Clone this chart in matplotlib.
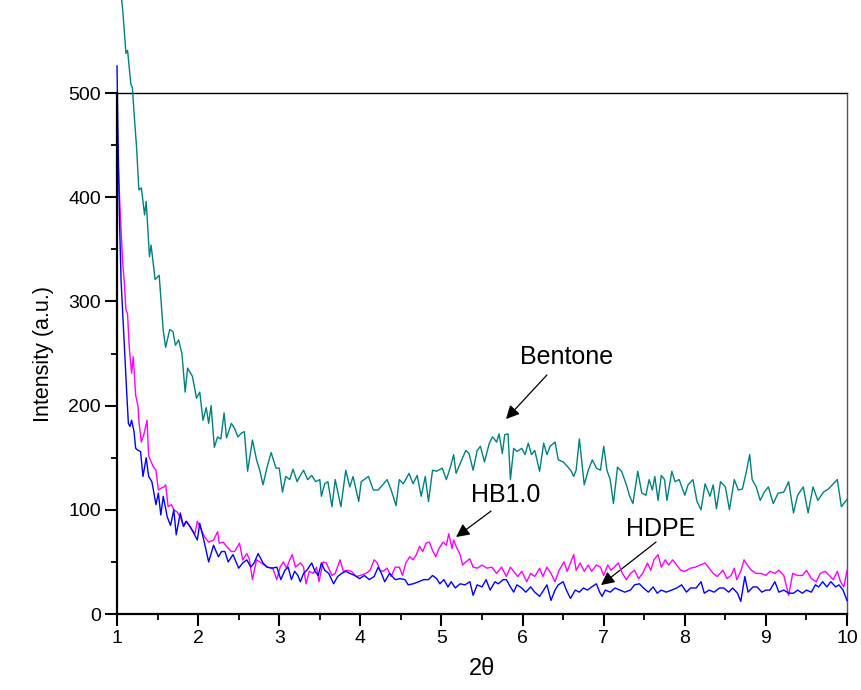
import numpy as np
import matplotlib
matplotlib.use("Agg")
import matplotlib.pyplot as plt
from matplotlib.ticker import MultipleLocator

plt.rcParams['font.family'] = ['Liberation Sans', 'DejaVu Sans']

# XRD patterns (2-theta in degrees, intensity in arbitrary units)
bentone_2theta = [
    1.00, 1.03, 1.07, 1.11, 1.13, 1.17, 1.19, 1.21, 1.24, 1.27, 1.30, 1.34, 1.36, 1.40, 1.42, 1.47,
    1.52, 1.57, 1.60, 1.65, 1.69, 1.72, 1.76, 1.80, 1.84, 1.87, 1.93, 1.98, 2.02, 2.06, 2.10, 2.13,
    2.16, 2.20, 2.24, 2.28, 2.32, 2.35, 2.41, 2.45, 2.49, 2.54, 2.57, 2.61, 2.67, 2.72, 2.76, 2.80,
    2.85, 2.90, 2.96, 3.00, 3.04, 3.08, 3.13, 3.17, 3.22, 3.26, 3.30, 3.35, 3.40, 3.45, 3.50, 3.52,
    3.56, 3.60, 3.65, 3.69, 3.76, 3.82, 3.87, 3.91, 3.98, 4.01, 4.10, 4.16, 4.22, 4.33, 4.38, 4.44,
    4.48, 4.53, 4.60, 4.65, 4.70, 4.75, 4.80, 4.84, 4.89, 4.94, 5.01, 5.06, 5.11, 5.15, 5.18, 5.25,
    5.30, 5.34, 5.39, 5.44, 5.48, 5.53, 5.59, 5.63, 5.68, 5.71, 5.75, 5.78, 5.82, 5.85, 5.89, 5.93,
    5.99, 6.03, 6.07, 6.11, 6.15, 6.21, 6.26, 6.30, 6.34, 6.40, 6.44, 6.50, 6.56, 6.60, 6.63, 6.66,
    6.70, 6.73, 6.76, 6.81, 6.86, 6.91, 6.96, 7.00, 7.04, 7.08, 7.12, 7.17, 7.22, 7.28, 7.32, 7.36,
    7.42, 7.47, 7.52, 7.56, 7.60, 7.63, 7.67, 7.71, 7.75, 7.78, 7.84, 7.88, 7.93, 8.00, 8.04, 8.10,
    8.15, 8.20, 8.25, 8.31, 8.35, 8.39, 8.44, 8.50, 8.55, 8.61, 8.66, 8.71, 8.76, 8.80, 8.83, 8.88,
    8.93, 8.98, 9.03, 9.09, 9.15, 9.22, 9.28, 9.34, 9.39, 9.46, 9.52, 9.58, 9.64, 9.71, 9.77, 9.83,
    9.88, 9.93, 10.00,
]
bentone_intensity = [
    640, 610, 580, 538, 541, 509, 505, 481, 449, 407, 409, 383, 396, 343, 354, 321,
    325, 272, 256, 273, 271, 258, 263, 250, 213, 236, 228, 207, 213, 186, 198, 183,
    200, 160, 170, 168, 193, 169, 183, 178, 170, 174, 175, 137, 167, 148, 138, 124,
    141, 155, 140, 140, 117, 132, 129, 139, 127, 133, 138, 129, 133, 127, 129, 113,
    125, 127, 103, 129, 103, 138, 122, 132, 108, 127, 132, 119, 119, 129, 119, 104,
    129, 125, 135, 125, 133, 113, 132, 108, 138, 137, 140, 129, 141, 153, 135, 148,
    157, 154, 138, 157, 161, 146, 164, 170, 165, 173, 154, 172, 173, 129, 159, 156,
    159, 153, 164, 153, 157, 137, 164, 153, 161, 165, 148, 146, 141, 137, 132, 138,
    168, 146, 124, 138, 148, 140, 138, 161, 138, 129, 106, 141, 137, 124, 113, 106,
    137, 116, 114, 129, 119, 132, 109, 133, 129, 109, 137, 127, 129, 114, 124, 129,
    108, 100, 125, 113, 124, 101, 127, 122, 100, 129, 119, 120, 137, 153, 129, 122,
    109, 117, 122, 106, 116, 117, 127, 97, 114, 122, 97, 122, 109, 117, 120, 125,
    129, 103, 110,
]

hb10_2theta = [
    1.00, 1.02, 1.04, 1.07, 1.09, 1.11, 1.13, 1.15, 1.18, 1.20, 1.23, 1.26, 1.27, 1.30, 1.33, 1.37,
    1.39, 1.42, 1.45, 1.48, 1.51, 1.55, 1.58, 1.60, 1.63, 1.67, 1.70, 1.74, 1.78, 1.82, 1.86, 1.90,
    1.96, 1.99, 2.02, 2.08, 2.13, 2.19, 2.24, 2.26, 2.31, 2.35, 2.41, 2.45, 2.51, 2.55, 2.60, 2.63,
    2.67, 2.72, 2.78, 2.85, 2.92, 2.97, 3.01, 3.05, 3.09, 3.13, 3.16, 3.20, 3.26, 3.30, 3.33, 3.37,
    3.42, 3.46, 3.49, 3.54, 3.58, 3.65, 3.69, 3.75, 3.79, 3.83, 3.89, 3.95, 4.00, 4.07, 4.12, 4.17,
    4.21, 4.24, 4.28, 4.33, 4.38, 4.43, 4.48, 4.52, 4.56, 4.61, 4.65, 4.69, 4.73, 4.77, 4.81, 4.85,
    4.89, 4.93, 4.97, 5.02, 5.06, 5.09, 5.13, 5.15, 5.18, 5.23, 5.26, 5.30, 5.35, 5.39, 5.44, 5.50,
    5.56, 5.62, 5.68, 5.74, 5.80, 5.85, 5.89, 5.94, 5.99, 6.05, 6.10, 6.15, 6.21, 6.25, 6.30, 6.35,
    6.40, 6.45, 6.51, 6.55, 6.59, 6.63, 6.66, 6.71, 6.76, 6.81, 6.85, 6.91, 6.96, 7.00, 7.05, 7.09,
    7.13, 7.18, 7.23, 7.28, 7.33, 7.38, 7.43, 7.48, 7.54, 7.58, 7.62, 7.67, 7.71, 7.76, 7.80, 7.85,
    7.90, 7.95, 8.00, 8.07, 8.13, 8.19, 8.25, 8.30, 8.35, 8.40, 8.47, 8.52, 8.57, 8.61, 8.64, 8.69,
    8.73, 8.77, 8.82, 8.88, 8.94, 9.00, 9.05, 9.11, 9.16, 9.22, 9.28, 9.33, 9.39, 9.45, 9.50, 9.56,
    9.62, 9.67, 9.73, 9.78, 9.83, 9.88, 9.92, 9.96, 10.00,
]
hb10_intensity = [
    458, 420, 385, 337, 318, 292, 288, 257, 231, 247, 210, 199, 185, 165, 172, 186,
    152, 146, 141, 138, 119, 121, 122, 124, 103, 105, 100, 98, 93, 84, 89, 84,
    77, 89, 84, 74, 69, 71, 79, 68, 69, 65, 60, 60, 68, 52, 58, 53,
    33, 52, 49, 45, 44, 33, 45, 50, 44, 52, 57, 45, 49, 45, 29, 41,
    39, 45, 31, 50, 49, 37, 39, 52, 41, 42, 41, 36, 37, 39, 42, 52,
    49, 42, 41, 44, 36, 45, 45, 37, 49, 55, 52, 57, 65, 60, 68, 69,
    61, 55, 63, 69, 66, 77, 63, 71, 65, 57, 47, 50, 53, 45, 44, 47,
    44, 45, 39, 45, 36, 45, 41, 36, 41, 31, 39, 36, 44, 36, 45, 39,
    31, 42, 50, 41, 49, 57, 42, 49, 41, 47, 41, 47, 45, 37, 47, 42,
    45, 49, 39, 33, 39, 42, 34, 39, 49, 42, 52, 57, 45, 52, 47, 52,
    47, 42, 41, 44, 45, 47, 49, 44, 39, 36, 42, 34, 37, 44, 33, 41,
    52, 47, 42, 39, 39, 37, 41, 39, 42, 37, 18, 39, 37, 37, 42, 34,
    31, 39, 41, 37, 33, 41, 31, 26, 42,
]

hdpe_2theta = [
    1.00, 1.01, 1.03, 1.05, 1.08, 1.10, 1.12, 1.14, 1.16, 1.18, 1.21, 1.23, 1.26, 1.29, 1.32, 1.36,
    1.39, 1.43, 1.48, 1.51, 1.54, 1.57, 1.62, 1.66, 1.70, 1.73, 1.78, 1.82, 1.85, 1.90, 1.95, 1.99,
    2.02, 2.07, 2.13, 2.19, 2.25, 2.29, 2.33, 2.37, 2.43, 2.50, 2.55, 2.60, 2.65, 2.69, 2.74, 2.80,
    2.85, 2.91, 2.97, 3.02, 3.07, 3.11, 3.15, 3.19, 3.23, 3.26, 3.30, 3.34, 3.40, 3.44, 3.48, 3.52,
    3.56, 3.61, 3.67, 3.72, 3.77, 3.82, 3.87, 3.93, 3.99, 4.05, 4.11, 4.17, 4.22, 4.26, 4.30, 4.36,
    4.43, 4.49, 4.55, 4.59, 4.65, 4.72, 4.78, 4.84, 4.89, 4.94, 4.98, 5.03, 5.08, 5.12, 5.17, 5.23,
    5.29, 5.35, 5.39, 5.44, 5.50, 5.55, 5.60, 5.66, 5.70, 5.76, 5.80, 5.85, 5.89, 5.93, 5.99, 6.04,
    6.10, 6.15, 6.21, 6.26, 6.30, 6.35, 6.40, 6.44, 6.50, 6.54, 6.59, 6.65, 6.70, 6.75, 6.80, 6.85,
    6.91, 6.95, 6.98, 7.02, 7.08, 7.14, 7.20, 7.26, 7.33, 7.38, 7.44, 7.49, 7.55, 7.61, 7.66, 7.71,
    7.77, 7.84, 7.90, 7.96, 8.02, 8.07, 8.14, 8.20, 8.24, 8.30, 8.36, 8.43, 8.48, 8.54, 8.59, 8.65,
    8.69, 8.74, 8.78, 8.84, 8.89, 8.95, 9.00, 9.05, 9.11, 9.16, 9.22, 9.28, 9.34, 9.39, 9.45, 9.50,
    9.56, 9.61, 9.65, 9.70, 9.75, 9.80, 9.86, 9.90, 9.95, 10.00,
]
hdpe_intensity = [
    526, 470, 380, 320, 273, 240, 212, 183, 180, 186, 175, 159, 157, 156, 132, 150,
    132, 127, 105, 116, 95, 113, 93, 85, 100, 76, 97, 84, 89, 84, 77, 71,
    87, 71, 50, 66, 55, 60, 60, 50, 57, 44, 49, 52, 45, 49, 58, 49,
    45, 44, 45, 33, 42, 45, 33, 41, 37, 31, 39, 42, 49, 41, 37, 49,
    42, 39, 29, 36, 39, 41, 39, 37, 34, 37, 33, 36, 45, 39, 31, 39,
    33, 34, 33, 28, 29, 31, 33, 33, 37, 34, 29, 33, 26, 31, 25, 29,
    28, 31, 18, 28, 26, 33, 23, 31, 29, 33, 33, 26, 21, 28, 25, 21,
    26, 21, 17, 23, 28, 13, 23, 28, 31, 23, 15, 23, 21, 25, 23, 26,
    29, 21, 17, 23, 21, 25, 23, 21, 23, 28, 29, 25, 21, 26, 20, 23,
    21, 23, 25, 28, 21, 25, 25, 31, 20, 23, 21, 25, 25, 21, 25, 20,
    12, 36, 21, 26, 26, 21, 23, 23, 31, 21, 23, 20, 20, 23, 20, 23,
    21, 28, 26, 31, 26, 31, 26, 28, 23, 13,
]

x_ticks = [1, 2, 3, 4, 5, 6, 7, 8, 9, 10]
y_ticks = [0, 100, 200, 300, 400, 500]

fig = plt.figure(figsize=(8.61, 6.90), dpi=100)
ax = fig.add_axes([0.1359, 0.1101, 0.8479, 0.7551])

ax.plot(bentone_2theta, bentone_intensity, color='#008080', lw=1.0, clip_on=False, zorder=3)
ax.plot(hb10_2theta, hb10_intensity, color='#FF00FF', lw=1.0, clip_on=False, zorder=4)
ax.plot(hdpe_2theta, hdpe_intensity, color='#0000FF', lw=1.0, clip_on=False, zorder=5)

ax.set_xlim(1, 10)
ax.set_ylim(0, 500)
ax.set_xticks(x_ticks)
ax.set_yticks(y_ticks)
ax.xaxis.set_minor_locator(MultipleLocator(0.5))
ax.yaxis.set_minor_locator(MultipleLocator(50))

for side in ('left', 'bottom'):
    ax.spines[side].set_linewidth(1.6)
    ax.spines[side].set_color('black')
    ax.spines[side].set_zorder(6)
ax.spines['top'].set_linewidth(1.0)
ax.spines['top'].set_color('black')
ax.spines['right'].set_linewidth(1.0)
ax.spines['right'].set_color('#555555')

ax.tick_params(which='major', direction='out', length=8.5, width=1.5, labelsize=14,
               top=False, right=False, pad=3)
ax.tick_params(which='minor', direction='out', length=4.5, width=1.3, top=False, right=False)

ax.set_xlabel('2θ', fontsize=17, labelpad=8)
ax.set_ylabel('Intensity (a.u.)', fontsize=15.5, labelpad=10)

# Sample labels with arrows
ax.text(6.548, 246.6, 'Bentone', fontsize=18, ha='center', va='center')
ax.annotate('', xy=(5.796, 187.1), xytext=(6.30, 229.4),
            arrowprops=dict(arrowstyle='-|>', color='black', lw=0.9,
                            mutation_scale=20, shrinkA=0, shrinkB=0))
ax.text(5.796, 114.2, 'HB1.0', fontsize=18, ha='center', va='center')
ax.annotate('', xy=(5.18, 73.9), xytext=(5.611, 98.8),
            arrowprops=dict(arrowstyle='-|>', color='black', lw=0.9,
                            mutation_scale=20, shrinkA=0, shrinkB=0))
ax.text(7.707, 81.6, 'HDPE', fontsize=18, ha='center', va='center')
ax.annotate('', xy=(6.967, 27.8), xytext=(7.645, 69.1),
            arrowprops=dict(arrowstyle='-|>', color='black', lw=0.9,
                            mutation_scale=20, shrinkA=0, shrinkB=0))

fig.savefig('out.png', dpi=100)
